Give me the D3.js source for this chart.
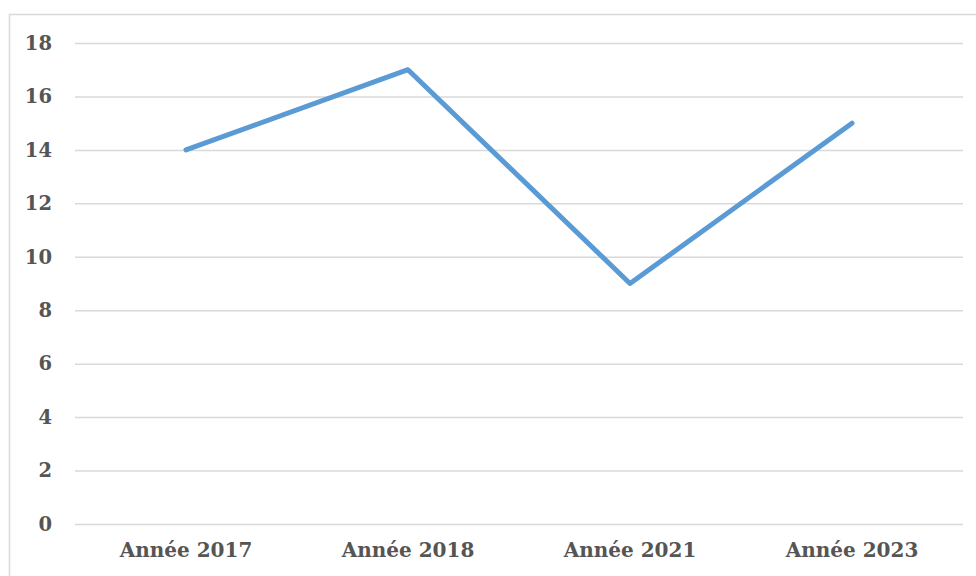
<!DOCTYPE html>
<html><head><meta charset="utf-8">
<script src="https://cdn.jsdelivr.net/npm/d3@7"></script>
<style>body{margin:0;background:#fff}svg{display:block}</style>
</head><body>
<script>
const categories = ["Année 2017", "Année 2018", "Année 2021", "Année 2023"];
const values = [14, 17, 9, 15];
const yTicks = [0, 2, 4, 6, 8, 10, 12, 14, 16, 18];

const W = 976, H = 576;
const svg = d3.select("body").append("svg").attr("width", W).attr("height", H);
svg.append("rect").attr("x", 9.5).attr("y", 14.5).attr("width", 1000).attr("height", 1000)
  .attr("fill", "#fff").attr("stroke", "#d9d9d9").attr("stroke-width", 1.5);

const x = d3.scaleBand().domain(categories).range([75, 963]);
const y = d3.scaleLinear().domain([0, 18]).range([524, 43]);
const font = "'DejaVu Serif', serif";

const ya = svg.append("g").attr("transform", "translate(75,0)")
  .call(d3.axisLeft(y).tickValues(yTicks).tickSize(-888).tickPadding(23).tickFormat(d3.format("d")));
ya.select(".domain").remove();
ya.selectAll("line").attr("stroke", "#d9d9d9").attr("stroke-width", 1.5);
ya.selectAll("text").attr("fill", "#555").attr("font-family", font).attr("font-weight", "bold").attr("font-size", 19.5);

const xa = svg.append("g").attr("transform", "translate(0,524)")
  .call(d3.axisBottom(x).tickSize(0).tickPadding(19));
xa.select(".domain").remove();
xa.selectAll("text").attr("fill", "#555").attr("font-family", font).attr("font-weight", "bold").attr("font-size", 20);

const line = d3.line().x((d, i) => x(categories[i]) + x.bandwidth() / 2).y(d => y(d));
svg.append("path").datum(values).attr("d", line).attr("fill", "none")
  .attr("stroke", "#5b9bd5").attr("stroke-width", 5).attr("stroke-linecap", "round").attr("stroke-linejoin", "round");
</script>
</body></html>
